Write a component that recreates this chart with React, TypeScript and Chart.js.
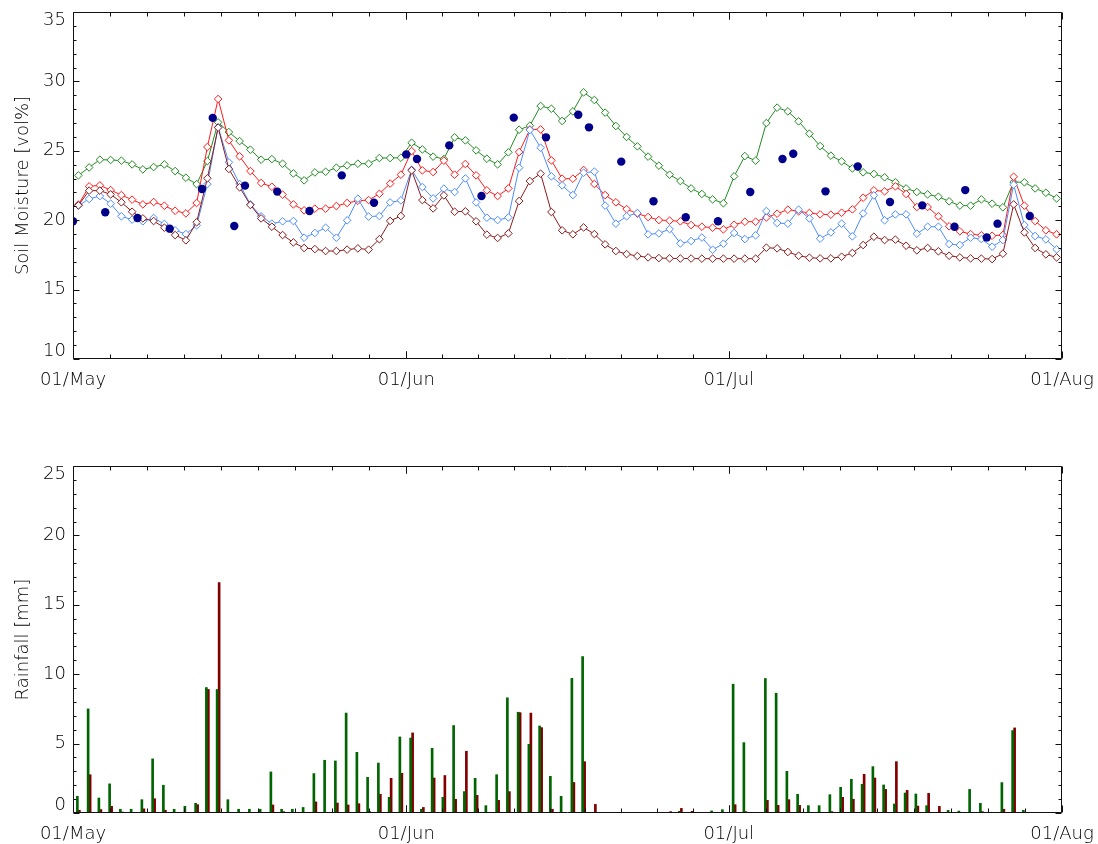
import React, { useEffect, useRef } from 'react';
import { Chart, registerables } from 'chart.js';

Chart.register(...registerables);

// ---- axis data ----
const MONTH_TICKS = [0, 31, 61, 92];
const MONTH_LABELS = ['01/May', '01/Jun', '01/Jul', '01/Aug'];
const SM_TICKS = [10, 15, 20, 25, 30, 35];
const RAIN_TICKS = [0, 5, 10, 15, 20, 25];

// ---- soil moisture series (daily, 01/May .. 31/Jul) ----
const smGreen = [
  23.23, 23.8, 24.36, 24.34, 24.29, 24.02, 23.66, 23.83, 24.02, 23.54, 23.06, 22.6, 24.26, 27.05, 26.35, 25.7, 25.08, 24.36, 24.4, 24.07, 23.37, 22.87, 23.44, 23.49, 23.78, 23.95, 24.07, 24.07, 24.48, 24.48,
  24.5, 25.58, 25.1, 24.58, 24.41, 25.97, 25.75, 25.03, 24.43, 24.02, 24.89, 26.52, 26.81, 28.23, 28.03, 27.15, 27.84, 29.21, 28.66, 27.75, 26.79, 26.0, 25.32, 24.58, 23.93, 23.28, 22.82, 22.29, 21.89, 21.5, 21.22, 23.16,
  24.62, 24.29, 27.0, 28.11, 27.84, 27.12, 26.23, 25.34, 24.65, 24.24, 23.73, 23.45, 23.33, 23.09, 22.73, 22.29, 22.03, 21.86, 21.69, 21.36, 21.05, 21.05, 21.5, 21.19, 20.93, 22.75, 22.73, 22.29, 21.98, 21.57,
];
const smRed = [
  21.12, 22.44, 22.51, 22.17, 21.81, 21.48, 21.14, 21.31, 21.04, 20.68, 20.49, 21.24, 25.27, 28.73, 25.75, 24.6, 23.54, 22.68, 22.41, 21.84, 21.14, 20.71, 20.83, 20.83, 21.02, 21.24, 21.4, 21.45, 21.9, 22.64,
  23.28, 24.98, 23.59, 23.47, 24.29, 23.28, 24.05, 23.23, 22.15, 21.74, 22.29, 24.91, 26.54, 26.54, 24.31, 22.99, 22.99, 23.62, 22.61, 21.81, 21.29, 20.8, 20.47, 20.23, 20.01, 19.97, 19.92, 19.65, 19.53, 19.46, 19.34, 19.67,
  19.89, 19.89, 20.2, 20.47, 20.76, 20.64, 20.52, 20.42, 20.4, 20.54, 20.78, 21.62, 22.15, 22.08, 22.44, 21.89, 20.95, 20.95, 20.28, 19.56, 19.2, 19.0, 18.91, 18.88, 18.93, 23.13, 21.05, 19.94, 19.27, 18.98,
];
const smBlue = [
  21.05, 21.53, 21.74, 21.19, 20.28, 20.04, 19.92, 20.16, 19.73, 19.27, 19.0, 19.63, 22.6, 26.7, 24.17, 22.6, 21.14, 20.28, 19.75, 19.92, 19.94, 18.74, 19.08, 19.46, 18.74, 19.99, 21.55, 20.26, 20.3, 21.28,
  21.43, 23.64, 22.39, 21.57, 22.27, 22.03, 23.01, 21.28, 20.18, 20.01, 20.2, 23.78, 26.5, 25.22, 23.16, 22.51, 21.81, 23.42, 23.5, 21.05, 19.75, 20.28, 20.52, 18.98, 19.05, 19.36, 18.33, 18.5, 18.75, 17.87, 18.31, 19.08,
  18.64, 18.91, 20.66, 19.8, 19.75, 20.76, 20.13, 18.67, 19.12, 19.75, 18.84, 20.49, 21.79, 19.99, 20.42, 20.42, 19.03, 19.53, 19.53, 18.28, 18.21, 18.74, 18.64, 18.09, 18.57, 22.56, 19.65, 18.86, 18.62, 17.9,
];
const smDarkRed = [
  21.07, 22.13, 22.13, 21.86, 21.29, 20.61, 20.13, 19.94, 19.46, 18.93, 18.55, 19.85, 23.02, 26.67, 23.69, 22.37, 21.1, 20.13, 19.53, 18.93, 18.4, 18.0, 17.92, 17.78, 17.78, 17.88, 17.97, 17.88, 18.63, 19.95,
  20.3, 23.59, 21.45, 20.85, 21.79, 20.61, 20.64, 19.92, 18.96, 18.72, 19.05, 21.38, 22.82, 23.35, 20.59, 19.27, 18.98, 19.48, 19.0, 18.26, 17.78, 17.56, 17.42, 17.32, 17.27, 17.25, 17.24, 17.24, 17.23, 17.23, 17.23, 17.23,
  17.23, 17.23, 18.02, 17.97, 17.71, 17.44, 17.3, 17.25, 17.25, 17.37, 17.64, 18.21, 18.81, 18.57, 18.6, 18.16, 17.83, 18.0, 17.76, 17.44, 17.32, 17.25, 17.23, 17.2, 17.59, 21.14, 19.12, 18.0, 17.54, 17.32,
];

// ---- observed soil moisture (day offset from 01/May) ----
const obsDays = [0, 3, 6, 9, 12, 13, 15, 16, 19, 22, 25, 28, 31, 32, 35, 38, 41, 44, 47, 48, 51, 54, 57, 60, 63, 66, 67, 70, 73, 76, 79, 82, 83, 85, 86, 89];
const obsValues = [19.92, 20.57, 20.16, 19.39, 22.25, 27.37, 19.58, 22.49, 22.06, 20.66, 23.23, 21.26, 24.74, 24.41, 25.39, 21.74, 27.39, 25.97, 27.6, 26.69, 24.22, 21.36, 20.21, 19.92, 22.03, 24.41, 24.79, 22.08, 23.88, 21.31, 21.07, 19.53, 22.17, 18.76, 19.75, 20.3];

// ---- rainfall (daily) ----
const rainGreen = [
  1.2, 7.5, 1.08, 2.1, 0.27, 0.27, 0.96, 3.9, 2.0, 0.27, 0.48, 0.7, 9.04, 8.9, 0.96, 0.27, 0.27, 0.27, 2.96, 0.27, 0.27, 0.4, 2.84, 3.8, 3.75, 7.2, 4.37, 2.57, 3.6, 1.13,
  5.48, 5.4, 0.27, 4.66, 1.13, 6.3, 1.54, 2.5, 0.53, 2.76, 8.3, 7.26, 4.95, 6.27, 2.64, 1.2, 9.7, 11.27, 0.05, 0.05, 0.03, 0.05, 0, 0.03, 0, 0, 0.12, 0, 0, 0.15,
  0.24, 9.28, 5.07, 0.02, 9.69, 8.63, 3.0, 1.35, 0.53, 0.53, 1.32, 1.85, 2.43, 2.07, 3.34, 2.02, 0.65, 1.44, 1.37, 0.53, 0, 0.19, 0.14, 1.7, 0.7, 0, 2.19, 5.94, 0.19, 0, 0, 0,
];
const rainRed = [
  0.2, 2.76, 0.25, 0.48, 0.07, 0.05, 0.3, 1.03, 0.2, 0.05, 0.05, 0.6, 8.9, 16.6, 0, 0.05, 0.05, 0.03, 0.58, 0.1, 0.05, 0, 0.8, 0.05, 0.72, 0.58, 0.67, 0.1, 1.35, 2.5,
  2.86, 5.77, 0.4, 2.52, 2.7, 0.99, 4.45, 1.27, 0.05, 0.91, 1.54, 7.23, 7.2, 6.15, 0.27, 0, 2.2, 3.7, 0.62, 0, 0.03, 0.05, 0, 0.03, 0, 0.1, 0.33, 0.12, 0, 0,
  0, 0.6, 0.1, 0.02, 0.91, 0.55, 0.96, 0.55, 0, 0, 0.1, 1.13, 0.99, 2.79, 2.52, 1.7, 3.7, 1.63, 0.5, 1.42, 0.48, 0.05, 0, 0.05, 0.1, 0.05, 0.27, 6.13, 0, 0, 0, 0,
];

const FONT_FAMILY = '"DejaVu Sans", "Liberation Sans", sans-serif';
const FONT_WEIGHT = '300';
const TEXT_COLOR = '#000000';

function framePlugin() {
  return {
    id: 'frame',
    afterDatasetsDraw(chart: any) {
      const { ctx, chartArea } = chart;
      const xs = chart.scales.x;
      const ys = chart.scales.y;
      const L = Math.round(chartArea.left) + 0.5;
      const R = Math.round(chartArea.right) - 0.5;
      const T = Math.round(chartArea.top) + 0.5;
      const B = Math.round(chartArea.bottom) - 0.5;
      ctx.save();
      ctx.strokeStyle = '#111';
      ctx.lineWidth = 1;
      ctx.beginPath();
      ctx.rect(L, T, R - L, B - T);
      // x ticks: each month split into 9 minor intervals
      for (let m = 0; m < MONTH_TICKS.length - 1; m++) {
        const a = MONTH_TICKS[m];
        const b = MONTH_TICKS[m + 1];
        for (let k = 0; k <= 9; k++) {
          const v = a + (k * (b - a)) / 9;
          const px = Math.round(xs.getPixelForValue(v)) + 0.5;
          const len = k === 0 || k === 9 ? 7 : 4;
          ctx.moveTo(px, B);
          ctx.lineTo(px, B - len);
          ctx.moveTo(px, T);
          ctx.lineTo(px, T + len);
        }
      }
      // y ticks: minor every unit, major every 5
      for (let v = ys.min; v <= ys.max; v += 1) {
        const py = Math.round(ys.getPixelForValue(v)) + 0.5;
        const len = v % 5 === 0 ? 6 : 3;
        ctx.moveTo(L, py);
        ctx.lineTo(L + len, py);
        ctx.moveTo(R, py);
        ctx.lineTo(R - len, py);
      }
      ctx.stroke();
      ctx.restore();
    },
  };
}

function xScale(xAxisHeight: number) {
  return {
    type: 'linear',
    min: 0,
    max: 92,
    offset: false,
    grid: { display: false, drawTicks: false, offset: false },
    border: { display: false },
    afterBuildTicks: (s: any) => {
      s.ticks = MONTH_TICKS.map((v) => ({ value: v }));
    },
    afterFit: (s: any) => {
      s.height = xAxisHeight;
      s.paddingLeft = 0;
      s.paddingRight = 0;
    },
    ticks: {
      autoSkip: false,
      maxRotation: 0,
      padding: 11,
      color: TEXT_COLOR,
      font: { family: FONT_FAMILY, size: 18, weight: FONT_WEIGHT },
      callback: (_v: any, i: number) => MONTH_LABELS[i],
    },
  };
}

function yScale(tickVals: number[], title: string) {
  return {
    type: 'linear',
    min: tickVals[0],
    max: tickVals[tickVals.length - 1],
    grid: { display: false, drawTicks: false },
    border: { display: false },
    afterBuildTicks: (s: any) => {
      s.ticks = tickVals.map((v) => ({ value: v }));
    },
    afterFit: (s: any) => {
      s.width = 73;
      s.paddingTop = 0;
      s.paddingBottom = 0;
    },
    title: {
      display: true,
      text: title,
      color: TEXT_COLOR,
      font: { family: FONT_FAMILY, size: 18, weight: FONT_WEIGHT },
      padding: { top: 13, bottom: 0 },
    },
    ticks: {
      autoSkip: false,
      padding: 7,
      color: TEXT_COLOR,
      font: { family: FONT_FAMILY, size: 18, lineHeight: 0.9, weight: FONT_WEIGHT },
      callback: (v: any, i: number) => {
        const s = String(v);
        if (i === 0) return [s, ''];
        if (i === tickVals.length - 1) return ['', s];
        return s;
      },
    },
  };
}

function lineDataset(vals: number[], color: string, order: number) {
  return {
    type: 'line',
    data: vals.map((v, i) => ({ x: i + 0.5, y: v })),
    borderColor: color,
    backgroundColor: '#ffffff',
    borderWidth: 1,
    pointStyle: 'rectRot',
    pointRadius: 3.8,
    pointBorderColor: color,
    pointBackgroundColor: '#ffffff',
    pointBorderWidth: 1,
    tension: 0,
    order,
  };
}

export default function App() {
  const topRef = useRef<HTMLCanvasElement | null>(null);
  const botRef = useRef<HTMLCanvasElement | null>(null);

  useEffect(() => {
    const top = new Chart(topRef.current as HTMLCanvasElement, {
      type: 'line',
      data: {
        datasets: [
          {
            type: 'line',
            data: obsDays.map((d, i) => ({ x: d, y: obsValues[i] })),
            showLine: false,
            pointStyle: 'circle',
            pointRadius: 4.2,
            pointBackgroundColor: '#00008b',
            pointBorderColor: '#00008b',
            pointBorderWidth: 0,
            order: 0,
          },
          lineDataset(smDarkRed, '#8b1a1a', 1),
          lineDataset(smBlue, '#4d8cff', 2),
          lineDataset(smRed, '#ff1a1a', 3),
          lineDataset(smGreen, '#228b22', 4),
        ] as any,
      },
      options: {
        responsive: false,
        animation: false,
        events: [],
        layout: { padding: { top: 12, right: 36, bottom: 0, left: 0 } },
        plugins: { legend: { display: false }, tooltip: { enabled: false } },
        scales: {
          x: xScale(61),
          y: yScale(SM_TICKS, 'Soil Moisture [vol%]'),
        } as any,
      },
      plugins: [framePlugin()],
    } as any);

    const bot = new Chart(botRef.current as HTMLCanvasElement, {
      type: 'bar',
      data: {
        datasets: [
          {
            data: rainGreen.map((v, i) => ({ x: i + 0.5, y: v })),
            backgroundColor: '#006400',
            borderWidth: 0,
            barThickness: 2,
          },
          {
            data: rainRed.map((v, i) => ({ x: i + 0.5, y: v })),
            backgroundColor: '#800000',
            borderWidth: 0,
            barThickness: 2,
          },
        ],
      },
      options: {
        responsive: false,
        animation: false,
        events: [],
        layout: { padding: { top: 46, right: 36, bottom: 0, left: 0 } },
        plugins: { legend: { display: false }, tooltip: { enabled: false } },
        scales: {
          x: xScale(31),
          y: yScale(RAIN_TICKS, 'Rainfall [mm]'),
        } as any,
      },
      plugins: [framePlugin()],
    } as any);

    return () => {
      top.destroy();
      bot.destroy();
    };
  }, []);

  return (
    <div style={{ position: 'absolute', left: 0, top: 0, width: 1098, height: 844, background: '#fff' }}>
      <canvas ref={topRef} width={1098} height={420} style={{ position: 'absolute', left: 0, top: 0 }} />
      <canvas ref={botRef} width={1098} height={424} style={{ position: 'absolute', left: 0, top: 420 }} />
    </div>
  );
}
